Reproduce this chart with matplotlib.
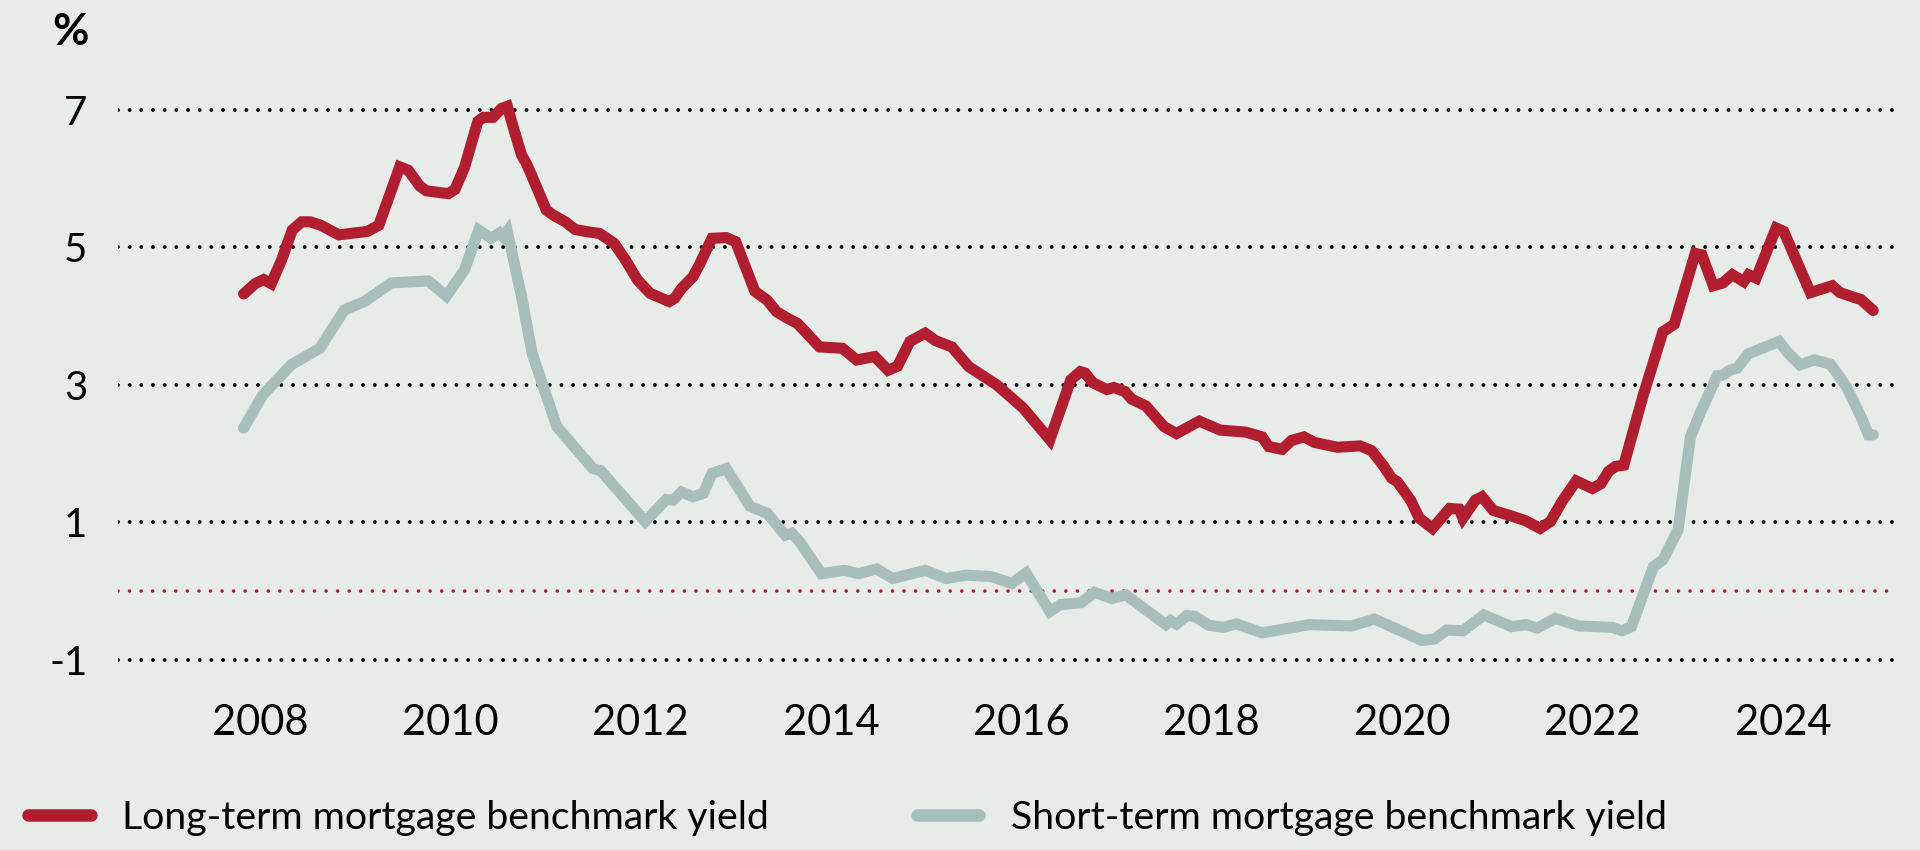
import matplotlib.pyplot as plt
from matplotlib.lines import Line2D

plt.rcParams['font.family'] = ['Lato', 'DejaVu Sans']

BG = "#E8ECE9"
RED = "#B01E2F"
GREY = "#A7BEBA"

# long-term benchmark yield (decimal year, %)
long_years = [2007.83, 2007.95, 2008.04, 2008.12, 2008.23, 2008.34, 2008.44, 2008.53, 2008.64, 2008.83,
              2009.13, 2009.25, 2009.47, 2009.56, 2009.68, 2009.75, 2009.98, 2010.05, 2010.15, 2010.29,
              2010.35, 2010.45, 2010.54, 2010.60, 2010.67, 2010.75, 2010.80, 2010.86, 2011.01, 2011.08,
              2011.21, 2011.31, 2011.42, 2011.57, 2011.72, 2011.83, 2011.97, 2012.10, 2012.30, 2012.36,
              2012.43, 2012.55, 2012.62, 2012.75, 2012.90, 2013.00, 2013.20, 2013.33, 2013.43, 2013.54,
              2013.65, 2013.88, 2014.12, 2014.27, 2014.46, 2014.60, 2014.70, 2014.83, 2014.99, 2015.10,
              2015.27, 2015.45, 2015.74, 2016.02, 2016.30, 2016.52, 2016.62, 2016.67, 2016.75, 2016.90,
              2016.97, 2017.09, 2017.16, 2017.31, 2017.50, 2017.63, 2017.87, 2018.09, 2018.36, 2018.53,
              2018.60, 2018.74, 2018.84, 2018.97, 2019.08, 2019.32, 2019.56, 2019.68, 2019.80, 2019.89,
              2019.95, 2020.09, 2020.18, 2020.32, 2020.50, 2020.60, 2020.64, 2020.77, 2020.84, 2020.96,
              2021.15, 2021.30, 2021.45, 2021.56, 2021.68, 2021.83, 2022.00, 2022.09, 2022.17, 2022.24,
              2022.33, 2022.53, 2022.74, 2022.86, 2023.08, 2023.15, 2023.27, 2023.37, 2023.47, 2023.59,
              2023.64, 2023.72, 2023.93, 2024.01, 2024.29, 2024.52, 2024.60, 2024.75, 2024.82, 2024.95]
long_yield = [4.32, 4.47, 4.53, 4.47, 4.82, 5.25, 5.37, 5.37, 5.32, 5.18,
              5.23, 5.32, 6.17, 6.12, 5.89, 5.82, 5.78, 5.84, 6.16, 6.83,
              6.89, 6.89, 7.02, 7.05, 6.71, 6.34, 6.22, 6.03, 5.54, 5.47,
              5.37, 5.26, 5.23, 5.20, 5.06, 4.84, 4.52, 4.33, 4.21, 4.26,
              4.40, 4.57, 4.75, 5.13, 5.14, 5.08, 4.36, 4.23, 4.06, 3.97,
              3.89, 3.55, 3.53, 3.36, 3.41, 3.21, 3.27, 3.63, 3.75, 3.64,
              3.55, 3.26, 3.00, 2.66, 2.20, 3.07, 3.19, 3.17, 3.03, 2.93,
              2.96, 2.90, 2.79, 2.69, 2.39, 2.29, 2.47, 2.34, 2.31, 2.24,
              2.10, 2.06, 2.19, 2.24, 2.16, 2.09, 2.11, 2.04, 1.83, 1.64,
              1.59, 1.32, 1.06, 0.91, 1.20, 1.19, 1.06, 1.32, 1.37, 1.17,
              1.09, 1.02, 0.91, 1.01, 1.30, 1.60, 1.49, 1.56, 1.74, 1.81,
              1.83, 2.83, 3.77, 3.88, 4.91, 4.89, 4.44, 4.48, 4.60, 4.50,
              4.60, 4.55, 5.28, 5.23, 4.34, 4.44, 4.34, 4.27, 4.24, 4.08]

# short-term benchmark yield (decimal year, %)
short_years = [2007.83, 2008.03, 2008.33, 2008.63, 2008.89, 2009.10, 2009.38, 2009.77, 2009.96, 2010.15,
               2010.30, 2010.43, 2010.52, 2010.56, 2010.60, 2010.75, 2010.86, 2011.12, 2011.50, 2011.58,
               2012.05, 2012.27, 2012.34, 2012.43, 2012.55, 2012.66, 2012.75, 2012.90, 2013.15, 2013.33,
               2013.52, 2013.59, 2013.67, 2013.90, 2014.14, 2014.29, 2014.48, 2014.65, 2014.99, 2015.21,
               2015.42, 2015.68, 2015.90, 2016.05, 2016.30, 2016.41, 2016.63, 2016.77, 2016.95, 2017.10,
               2017.52, 2017.57, 2017.63, 2017.74, 2017.82, 2017.97, 2018.12, 2018.26, 2018.53, 2019.03,
               2019.47, 2019.71, 2020.21, 2020.34, 2020.47, 2020.64, 2020.86, 2021.15, 2021.30, 2021.42,
               2021.61, 2021.86, 2022.21, 2022.31, 2022.41, 2022.64, 2022.74, 2022.90, 2023.03, 2023.13,
               2023.31, 2023.37, 2023.44, 2023.52, 2023.64, 2023.96, 2024.05, 2024.18, 2024.33, 2024.50,
               2024.67, 2024.82, 2024.90, 2024.95]
short_yield = [2.37, 2.85, 3.29, 3.53, 4.09, 4.21, 4.48, 4.51, 4.29, 4.67,
               5.25, 5.13, 5.21, 5.15, 5.23, 4.28, 3.46, 2.39, 1.78, 1.75,
               1.01, 1.33, 1.32, 1.44, 1.37, 1.42, 1.71, 1.78, 1.23, 1.13,
               0.81, 0.84, 0.72, 0.25, 0.30, 0.25, 0.32, 0.18, 0.30, 0.18,
               0.23, 0.21, 0.11, 0.26, -0.30, -0.20, -0.17, -0.02, -0.11, -0.06,
               -0.49, -0.43, -0.48, -0.36, -0.37, -0.50, -0.53, -0.48, -0.61, -0.49,
               -0.51, -0.41, -0.72, -0.70, -0.57, -0.58, -0.35, -0.52, -0.49, -0.54,
               -0.40, -0.51, -0.53, -0.58, -0.52, 0.35, 0.45, 0.89, 2.24, 2.58,
               3.13, 3.14, 3.21, 3.24, 3.45, 3.63, 3.47, 3.29, 3.36, 3.30,
               2.97, 2.54, 2.27, 2.27]

y_ticks = [-1, 1, 3, 5, 7]
x_ticks = [2008, 2010, 2012, 2014, 2016, 2018, 2020, 2022, 2024]

fig = plt.figure(figsize=(19.2, 8.5), dpi=100, facecolor=BG)
ax = fig.add_axes([118 / 1920, 0.1835, (1897 - 118) / 1920, 0.7278], facecolor=BG)

# dotted gridlines
for yv in y_ticks:
    ax.axhline(yv, color="black", lw=2.8, linestyle=(0, (0.001, 3.0)), dash_capstyle="round", zorder=1)
ax.axhline(0, color=RED, lw=2.6, linestyle=(0, (0.001, 3.2)), dash_capstyle="round", zorder=1)

p2, = ax.plot(short_years, short_yield, color=GREY, lw=8, solid_capstyle="round",
              solid_joinstyle="miter", zorder=2, label="Short-term mortgage benchmark yield")
p1, = ax.plot(long_years, long_yield, color=RED, lw=8, solid_capstyle="round",
              solid_joinstyle="miter", zorder=3, label="Long-term mortgage benchmark yield")

ax.set_xlim(2006.51, 2025.2)
ax.set_ylim(-1.5, 7.5)
ax.set_yticks(y_ticks)
ax.set_yticklabels([str(v) for v in y_ticks])
ax.set_xticks(x_ticks)
ax.set_xticklabels([str(v) for v in x_ticks])
ax.tick_params(axis="y", length=0, pad=22, labelsize=29)
ax.tick_params(axis="x", length=0, pad=7, labelsize=30)
for s in ax.spines.values():
    s.set_visible(False)

fig.text(70 / 1920, 1 - 32 / 850, "%", fontsize=32, fontweight="bold", ha="center", va="center")

leg_handles = [Line2D([], [], color=RED, lw=9, solid_capstyle="round"),
               Line2D([], [], color=GREY, lw=9, solid_capstyle="round")]
fig.legend(leg_handles, [p1.get_label(), p2.get_label()], loc="center left",
           bbox_to_anchor=(28 / 1920, 1 - 818 / 850), ncol=2, frameon=False,
           fontsize=28.3, handlelength=1.6, handletextpad=0.8, columnspacing=3.75,
           borderpad=0, borderaxespad=0)

fig.savefig("out.png", dpi=100, facecolor=BG)
